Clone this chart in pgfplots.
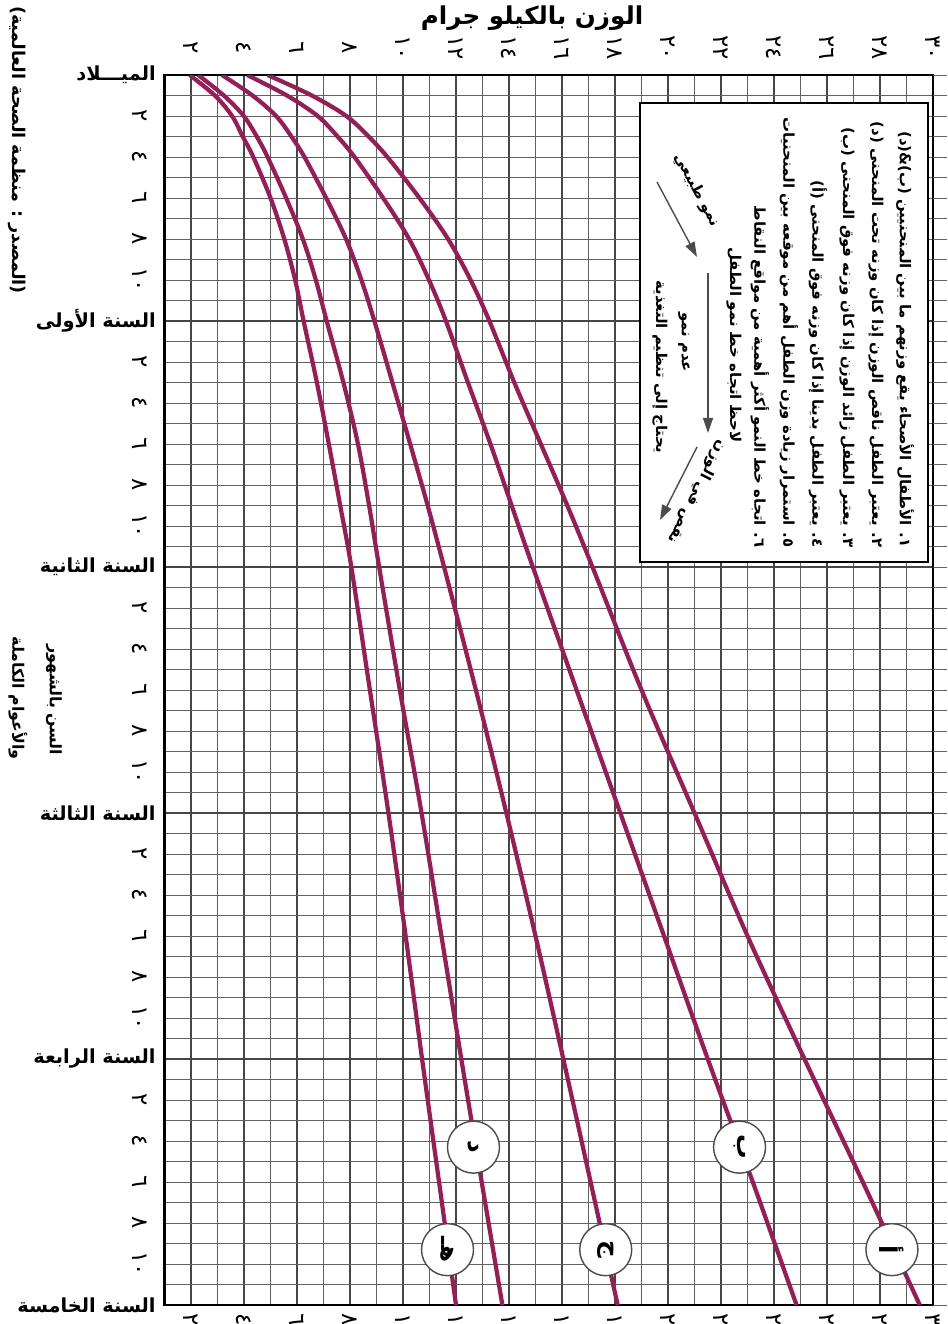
\documentclass[border=0pt]{standalone}
\usepackage{pgfplots}
\pgfplotsset{compat=1.18}
\usetikzlibrary{arrows.meta}
\usepackage{fontspec}
\TeXXeTstate=1
\newfontfamily\arabicfont[Script=Arabic]{DejaVu Sans}
\definecolor{curve}{RGB}{152,28,86}
\definecolor{gridc}{RGB}{70,70,70}
\newcommand\digitfont{\arabicfont\fontsize{13}{13}\selectfont}
\newcommand\boxfont{\arabicfont\bfseries\fontsize{8.5}{10}\selectfont}

\begin{document}
\begin{tikzpicture}
\path[use as bounding box] (0,0) rectangle (189.4mm,-264.8mm);

\begin{axis}[
  at={(32.9mm,-15mm)}, anchor=north west,
  scale only axis, width=153.7mm, height=246mm,
  xmin=1, xmax=30, ymin=0, ymax=60, y dir=reverse,
  xtick={2,4,...,30}, minor xtick={1,3,...,29},
  ytick={0,12,...,60}, minor ytick={0,1,...,60},
  xticklabels={}, yticklabels={},
  major tick length=0pt, minor tick length=0pt,
  grid=both,
  major grid style={gridc, line width=0.9pt},
  minor grid style={gridc!85, line width=0.5pt},
  axis line style={black, line width=1.4pt},
  growth/.style={curve, line width=2.4pt, smooth, tension=0.55, no markers},
]
% curve (a)
\addplot[growth] coordinates {(4.89,0) (6.56,1) (7.86,2) (8.70,3) (9.41,4) (10.62,6) (11.70,8) (12.55,10) (13.26,12) (14.2,15) (15.2,18) (16.2,21) (17.15,24) (19.0,30) (21.0,36) (23.0,42) (25.15,48) (27.35,54) (29.5,60)};
% curve (b)
\addplot[growth] coordinates {(4.12,0) (5.62,1) (6.78,2) (7.53,3) (8.17,4) (9.25,6) (10.23,8) (10.98,10) (11.62,12) (12.45,15) (13.3,18) (14.1,21) (14.9,24) (16.55,30) (18.2,36) (19.85,42) (21.5,48) (23.2,54) (24.85,60)};
% curve (j)
\addplot[growth] coordinates {(3.17,0) (4.32,1) (5.21,2) (5.79,3) (6.28,4) (7.1,6) (7.85,8) (8.43,10) (8.92,12) (9.6,15) (10.27,18) (10.93,21) (11.55,24) (12.75,30) (13.9,36) (15.0,42) (16.05,48) (17.08,54) (18.1,60)};
% curve (d)
\addplot[growth] coordinates {(2.27,0) (3.24,1) (3.99,2) (4.48,3) (4.89,4) (5.59,6) (6.22,8) (6.71,10) (7.12,12) (7.75,15) (8.3,18) (8.72,21) (9.1,24) (9.88,30) (10.7,36) (11.45,42) (12.2,48) (12.97,54) (13.75,60)};
% curve (h)
\addplot[growth] coordinates {(1.95,0) (2.9,1) (3.55,2) (3.95,3) (4.35,4) (5.0,6) (5.52,8) (5.93,10) (6.25,12) (6.75,15) (7.2,18) (7.63,21) (8.05,24) (8.75,30) (9.45,36) (10.1,42) (10.72,48) (11.36,54) (12.0,60)};

\tikzset{lbl/.style={circle, draw=black!70, fill=white, line width=0.8pt, minimum size=10.4mm, inner sep=0pt, rotate=-90, font=\arabicfont\bfseries\fontsize{14}{14}\selectfont}}
\node[lbl] at (axis cs:28.45,57.3) {أ};
\node[lbl] at (axis cs:22.7,52.3) {ب};
\node[lbl] at (axis cs:17.65,57.3) {ج};
\node[lbl] at (axis cs:12.66,52.3) {د};
\node[lbl] at (axis cs:11.68,57.3) {هـ};
\end{axis}

\begin{scope}[x=0.2mm,y=-0.2mm]
% grid stubs beyond the right border
\foreach \m in {0,...,60}{
  \draw[gridc!85, line width=0.5pt] (933,{75+\m*20.5}) -- (947,{75+\m*20.5});
}
% weight ticks, top and bottom
\foreach \w/\lab in {2/٢,4/٤,6/٦,8/٨,10/١٠,12/١٢,14/١٤,16/١٦,18/١٨,20/٢٠,22/٢٢,24/٢٤,26/٢٦,28/٢٨,30/٣٠}{
  \node[rotate=-90, inner sep=0pt, font=\digitfont] at ({164.5+(\w-1)*26.5},48) {\lab};
  \node[rotate=-90, anchor=west, inner sep=0pt, font=\digitfont] at ({164.5+(\w-1)*26.5},1313) {\lab};
}
% month ticks
\foreach \yr in {0,...,4}{
  \foreach \mo/\lab in {2/٢,4/٤,6/٦,8/٨,10/١٠}{
    \node[rotate=-90, font=\digitfont] at (140,{75+(12*\yr+\mo)*20.5}) {\lab};
  }
}
% year labels
\foreach \m/\lab in {0/الميـــلاد,12/السنة الأولى,24/السنة الثانية,36/السنة الثالثة,48/السنة الرابعة,60/السنة الخامسة}{
  \node[anchor=east, inner sep=0pt, font=\arabicfont\bfseries\fontsize{11}{13}\selectfont] at (156,{75+\m*20.5}) {\beginR\lab\endR};
}

\node[font=\arabicfont\bfseries\fontsize{14}{16}\selectfont] at (532,18) {\beginR الوزن بالكيلو جرام\endR};
\node[rotate=-90, font=\arabicfont\bfseries\fontsize{10}{12}\selectfont] at (17,150) {\beginR(المصدر : منظمة الصحة العالمية)\endR};
\node[rotate=-90, font=\arabicfont\bfseries\fontsize{9}{11}\selectfont] at (54,700) {\beginR السن بالشهور\endR};
\node[rotate=-90, font=\arabicfont\bfseries\fontsize{9}{11}\selectfont] at (18,698) {\beginR والأعوام الكاملة\endR};

% notes box
\draw[fill=white, line width=1pt] (640,103) rectangle (928,562);
\foreach \x/\txt in {905/{١. الأطفال الأصحاء يقع وزنهم ما بين المنحنيين (ب)\&(د)},
                     876/{٢. يعتبر الطفل ناقص الوزن إذا كان وزنه تحت المنحنى (د)},
                     847/{٣. يعتبر الطفل زائد الوزن إذا كان وزنه فوق المنحنى (ب)},
                     818/{٤. يعتبر الطفل بدينا إذا كان وزنه فوق المنحنى (أ)},
                     789/{٥. استمرار زيادة وزن الطفل أهم من موقعه بين المنحنيات},
                     760/{٦. اتجاه خط النمو أكثر أهمية من مواقع النقاط}}{
  \node[rotate=-90, anchor=east, inner sep=0pt, font=\boxfont] at (\x,548) {\beginR\txt\endR};
}
\node[rotate=-90, font=\boxfont] at (734,345) {\beginR لاحظ اتجاه خط نمو الطفل\endR};
\draw[-{Triangle[length=3mm,width=2mm]}, line width=0.8pt, black!70] (657,182) -- (697,257);
\draw[-{Triangle[length=3mm,width=2mm]}, line width=0.8pt, black!70] (708,273) -- (708,433);
\draw[-{Triangle[length=3mm,width=2mm]}, line width=0.8pt, black!70] (697,447) -- (660,520);
\node[rotate=-62, font=\boxfont] at (697,190) {\beginR نمو طبيعي\endR};
\node[rotate=-117, font=\boxfont] at (697,492) {\beginR نقص في الوزن\endR};
\node[rotate=-90, font=\boxfont] at (684,342) {\beginR عدم نمو\endR};
\node[rotate=-90, font=\boxfont] at (660,367) {\beginR يحتاج إلى تنظيم التغذية\endR};
\end{scope}
\end{tikzpicture}
\end{document}
